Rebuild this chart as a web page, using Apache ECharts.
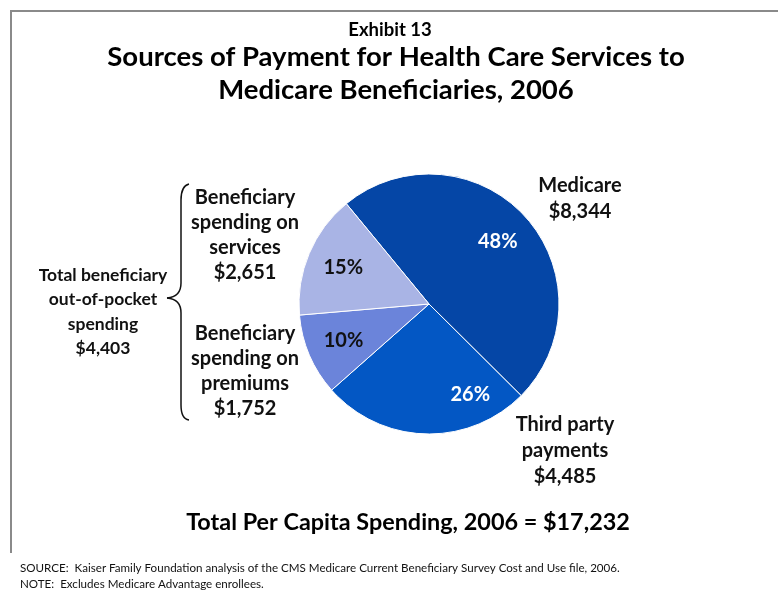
<!DOCTYPE html>
<html>
<head>
<meta charset="utf-8">
<script src="https://cdn.jsdelivr.net/npm/echarts@6/dist/echarts.min.js"></script>
<style>
html,body{margin:0;padding:0;background:#fff;}
#chart{width:778px;height:591px;}
</style>
</head>
<body>
<div id="chart"></div>
<script>
// ---- data ----
const categories = ['Medicare', 'Third party payments', 'Beneficiary spending on premiums', 'Beneficiary spending on services'];
const values = [8344, 4485, 1752, 2651];
const percentLabels = ['48%', '26%', '10%', '15%'];
const sliceColors = ['#0546a6', '#0357c4', '#6b84da', '#a9b4e5'];
const percentColors = ['#ffffff', '#ffffff', '#111111', '#111111'];
const outsideLabels = {
  medicare: ['Medicare', '$8,344'],
  thirdParty: ['Third party', 'payments', '$4,485'],
  services: ['Beneficiary', 'spending on', 'services', '$2,651'],
  premiums: ['Beneficiary', 'spending on', 'premiums', '$1,752'],
  total: ['Total beneficiary', 'out-of-pocket', 'spending', '$4,403']
};
const exhibit = 'Exhibit 13';
const titleLines = ['Sources of Payment for Health Care Services to', 'Medicare Beneficiaries, 2006'];
const totalLine = 'Total Per Capita Spending, 2006 = $17,232';
const notes = ['SOURCE:  Kaiser Family Foundation analysis of the CMS Medicare Current Beneficiary Survey Cost and Use file, 2006.',
               'NOTE:  Excludes Medicare Advantage enrollees.'];

const FONT = 'Lato, "Open Sans", sans-serif';
const chart = echarts.init(document.getElementById('chart'), null, {renderer: 'canvas'});

function textBlock(lines, cx, y0, lh, size) {
  return lines.map((t, i) => ({
    type: 'text', x: cx, y: y0 + i * lh,
    style: {text: t, fill: '#111', font: 'bold ' + size + 'px ' + FONT, textAlign: 'center', textVerticalAlign: 'middle'}
  }));
}

const pieData = values.map((v, i) => ({name: categories[i], value: v, itemStyle: {color: sliceColors[i]}}));
const labelData = values.map((v, i) => ({
  name: categories[i], value: v,
  label: {formatter: percentLabels[i], color: percentColors[i]}
}));

const braceStyle = {stroke: '#111', lineWidth: 1.5, fill: null};
const graphics = [
  {type: 'line', shape: {x1: 11, y1: 11, x2: 778, y2: 11}, style: {stroke: '#8a8a8a', lineWidth: 2}},
  {type: 'line', shape: {x1: 11, y1: 10, x2: 11, y2: 553}, style: {stroke: '#8a8a8a', lineWidth: 2}},
  {type: 'text', x: 390, y: 30, style: {text: exhibit, fill: '#000', font: 'bold 18.5px ' + FONT, textAlign: 'center', textVerticalAlign: 'middle'}},
  {type: 'text', x: 396, y: 57, style: {text: titleLines[0], fill: '#000', font: 'bold 27.5px ' + FONT, textAlign: 'center', textVerticalAlign: 'middle'}},
  {type: 'text', x: 396, y: 90, style: {text: titleLines[1], fill: '#000', font: 'bold 27.5px ' + FONT, textAlign: 'center', textVerticalAlign: 'middle'}},
  {type: 'text', x: 408, y: 522, style: {text: totalLine, fill: '#000', font: 'bold 23.4px ' + FONT, textAlign: 'center', textVerticalAlign: 'middle'}},
  {type: 'text', x: 20, y: 568, style: {text: notes[0], fill: '#111', font: '11.6px ' + FONT, textAlign: 'left', textVerticalAlign: 'middle'}},
  {type: 'text', x: 20, y: 584, style: {text: notes[1], fill: '#111', font: '11.6px ' + FONT, textAlign: 'left', textVerticalAlign: 'middle'}},
  // brace
  {type: 'bezierCurve', shape: {x1: 189, y1: 184, cpx1: 181, cpy1: 186, x2: 181, y2: 200}, style: braceStyle},
  {type: 'line', shape: {x1: 181, y1: 200, x2: 181, y2: 283}, style: braceStyle},
  {type: 'bezierCurve', shape: {x1: 181, y1: 283, cpx1: 181, cpy1: 297, x2: 167, y2: 298}, style: braceStyle},
  {type: 'bezierCurve', shape: {x1: 167, y1: 298, cpx1: 181, cpy1: 299, x2: 181, y2: 313}, style: braceStyle},
  {type: 'line', shape: {x1: 181, y1: 313, x2: 181, y2: 405}, style: braceStyle},
  {type: 'bezierCurve', shape: {x1: 181, y1: 405, cpx1: 181, cpy1: 419, x2: 189, y2: 420}, style: braceStyle}
]
.concat(textBlock(outsideLabels.medicare, 580, 186, 26, 20))
.concat(textBlock(outsideLabels.thirdParty, 565, 425, 26, 20))
.concat(textBlock(outsideLabels.services, 245, 198, 25, 20))
.concat(textBlock(outsideLabels.premiums, 245, 334, 25, 20))
.concat(textBlock(outsideLabels.total, 103, 275, 24.5, 17.5));

chart.setOption({
  animation: false,
  backgroundColor: '#ffffff',
  graphic: {elements: graphics},
  series: [
    {
      type: 'pie',
      center: [429, 304],
      radius: [0, 130],
      startAngle: 129.5,
      clockwise: true,
      silent: true,
      label: {show: false},
      labelLine: {show: false},
      itemStyle: {borderColor: '#ffffff', borderWidth: 1},
      emphasis: {disabled: true},
      data: pieData
    },
    {
      type: 'pie',
      center: [429, 304],
      radius: [60, 120],
      startAngle: 129.5,
      clockwise: true,
      silent: true,
      itemStyle: {color: 'rgba(0,0,0,0)'},
      label: {show: true, position: 'inside', fontFamily: FONT, fontWeight: 'bold', fontSize: 20},
      labelLine: {show: false},
      labelLayout: function (p) { return p.dataIndex === 1 ? {dx: 44, dy: -2} : {}; },
      emphasis: {disabled: true},
      data: labelData
    }
  ]
});
</script>
</body>
</html>
